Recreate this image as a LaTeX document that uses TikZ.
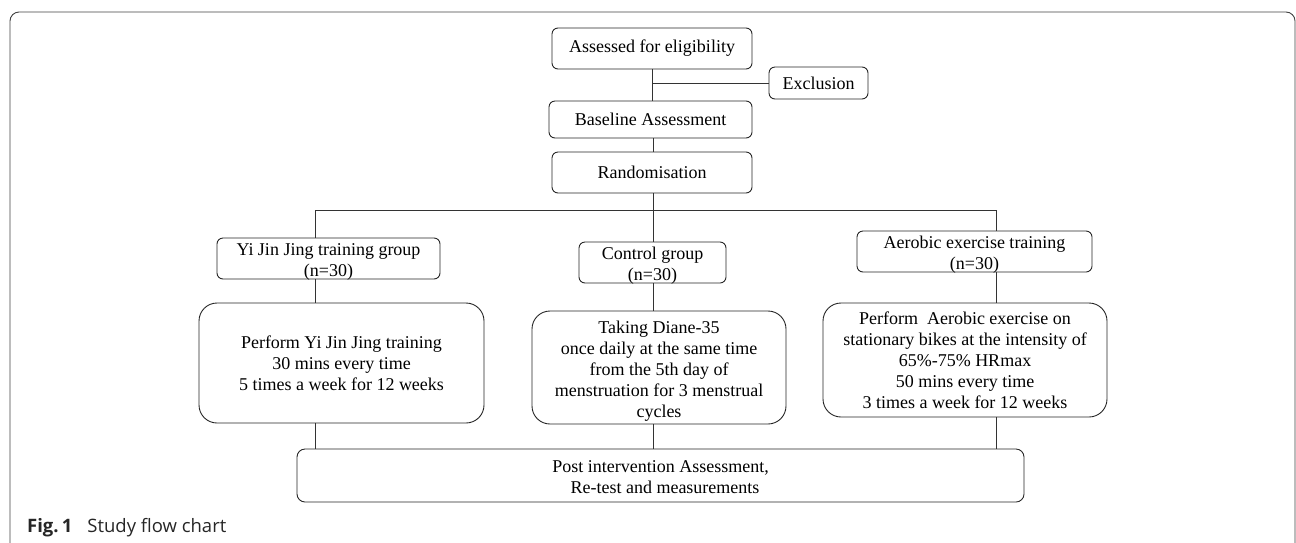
\documentclass[tikz,border=0pt]{standalone}
\usepackage{fontspec}
\setmainfont{Liberation Serif}
\newfontfamily\capfont{Open Sans}
\begin{document}
\begin{tikzpicture}[x=1pt,y=-1pt,
  box/.style={draw=black!85,line width=0.9pt,rounded corners=6pt,inner sep=0pt,align=center,
    font=\fontsize{18}{21}\selectfont},
  gbox/.style={box,minimum height=41pt,text height=38.5pt,text depth=2.5pt},
  bigbox/.style={box,rounded corners=18pt},
  conn/.style={draw=black!80,line width=0.9pt}]
\useasboundingbox (0,0) rectangle (1296,542);
\draw[black!75,line width=0.9pt,rounded corners=9pt] (10,548) -- (10,12) -- (1295,12) -- (1295,548);
% top chain
\node[box,minimum width=200pt,minimum height=41pt] (assess) at (652,48.5) {Assessed for eligibility};
\node[box,minimum width=99pt,minimum height=32pt] (excl) at (818.5,83) {Exclusion};
\node[box,minimum width=203pt,minimum height=37pt] (base) at (650.5,119.5) {Baseline Assessment};
\node[box,minimum width=200pt,minimum height=41pt] (rand) at (652,172.5) {Randomisation};
% groups
\node[gbox,minimum width=223pt] (g1) at (328.5,258.5) {Yi Jin Jing training group\\(n=30)};
\node[gbox,minimum width=147pt] (g2) at (652.5,262.5) {Control group\\(n=30)};
\node[gbox,minimum width=235pt] (g3) at (974.5,251.5) {Aerobic exercise training\\(n=30)};
% details
\node[bigbox,minimum width=285pt,minimum height=120pt] (d1) at (341.5,363)
  {Perform Yi Jin Jing training\\30 mins every time\\5 times a week for 12 weeks};
\node[bigbox,minimum width=254pt,minimum height=113pt,text height=106pt,text depth=7pt] (d2) at (659,367.5)
  {Taking Diane-35\\once daily at the same time\\from the 5th day of\\menstruation for 3 menstrual\\cycles};
\node[bigbox,minimum width=284pt,minimum height=114pt] (d3) at (965,360)
  {Perform\ \ Aerobic exercise on\\stationary bikes at the intensity of\\65\%-75\% HRmax\\50 mins every time\\3 times a week for 12 weeks};
\node[box,rounded corners=8pt,minimum width=727pt,minimum height=53pt,text height=44pt,text depth=9pt] (post) at (660.5,475.5)
  {Post intervention Assessment,\\\ \ Re-test and measurements};
% connectors
\coordinate (hL) at (315,210);
\coordinate (hM) at (653,210);
\coordinate (hR) at (996,210);
\draw[conn] (assess.south) -- (assess.south |- base.north);
\draw[conn] (assess.south |- excl.west) -- (excl.west);
\draw[conn] (hM |- base.south) -- (hM |- rand.north);
\draw[conn] (hM |- rand.south) -- (hM);
\draw[conn] (hL) -- (hR);
\draw[conn] (hL) -- (hL |- g1.north);
\draw[conn] (hM) -- (hM |- g2.north);
\draw[conn] (hR) -- (hR |- g3.north);
\draw[conn] (hL |- g1.south) -- (hL |- d1.north);
\draw[conn] (hM |- g2.south) -- (hM |- d2.north);
\draw[conn] (hR |- g3.south) -- (hR |- d3.north);
\draw[conn] (hL |- d1.south) -- (hL |- post.north);
\draw[conn] (hM |- d2.south) -- (hM |- post.north);
\draw[conn] (hR |- d3.south) -- (hR |- post.north);
% caption
\node[anchor=base west,inner sep=0pt,text=black!85,font=\capfont\fontsize{18.5}{22}\selectfont] (cap) at (27,532)
  {\textbf{Fig.\,1}\hspace{15pt}Study flow chart};
\end{tikzpicture}
\end{document}
